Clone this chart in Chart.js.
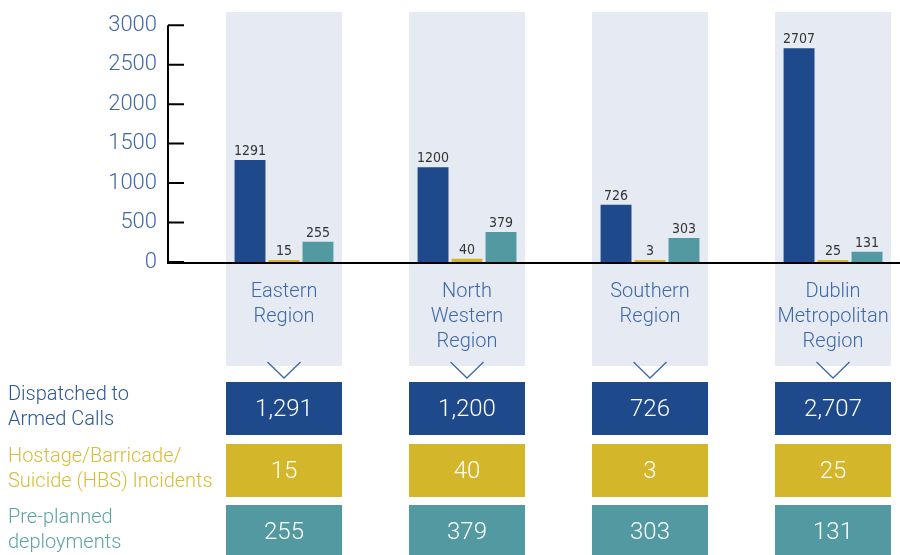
<!DOCTYPE html>
<html>
<head>
<meta charset="utf-8">
<script src="https://cdn.jsdelivr.net/npm/chart.js@4"></script>
<style>
  html, body { margin: 0; padding: 0; background: #fff; }
  #wrap { width: 900px; height: 555px; position: relative; }
</style>
</head>
<body>
<div id="wrap"><canvas id="armedChart"></canvas></div>
<script>
const regions = [['Eastern', 'Region'], ['North', 'Western', 'Region'], ['Southern', 'Region'], ['Dublin', 'Metropolitan', 'Region']];
const seriesNames = [['Dispatched to', 'Armed Calls'], ['Hostage/Barricade/', 'Suicide (HBS) Incidents'], ['Pre-planned', 'deployments']];
const dispatched = [1291, 1200, 726, 2707];
const hostage = [15, 40, 3, 25];
const preplanned = [255, 379, 303, 131];
const yTicks = [0, 500, 1000, 1500, 2000, 2500, 3000];

const seriesData = [dispatched, hostage, preplanned];
const seriesColors = ['#1e4a8b', '#d4b62a', '#5299a1'];
const labelColors = ['#2a5697', '#d9bc35', '#5ea2a8'];
const axisBlue = '#3f68a8';
const lightFont = "'Roboto', 'Liberation Sans', sans-serif";

// layout of the panels round each region
const colHalf = 58;
const colTop = 12;
const colBottom = 366;
const rowTop = [382, 444, 505];
const rowH = 53;

const decorPlugin = {
    id: 'decor',
    beforeDatasetsDraw(chart) {
        const ctx = chart.ctx;
        const x = chart.scales.x;
        ctx.save();
        ctx.fillStyle = '#e6ebf3';
        regions.forEach((r, i) => {
            const cx = x.getPixelForValue(i);
            ctx.fillRect(cx - colHalf, colTop, colHalf * 2, colBottom - colTop);
        });
        ctx.restore();
    },
    afterDatasetsDraw(chart) {
        const ctx = chart.ctx;
        const area = chart.chartArea;
        const x = chart.scales.x;
        const y = chart.scales.y;
        const y0 = y.getPixelForValue(0);
        ctx.save();
        // axis line and inward ticks
        ctx.strokeStyle = '#000';
        ctx.lineWidth = 2;
        ctx.beginPath();
        ctx.moveTo(area.left - 1, y.getPixelForValue(yTicks[yTicks.length - 1]));
        ctx.lineTo(area.left - 1, y0 + 2);
        yTicks.forEach(t => {
            const py = y.getPixelForValue(t);
            ctx.moveTo(area.left - 1, py);
            ctx.lineTo(area.left + 15, py);
        });
        ctx.stroke();
        ctx.beginPath();
        ctx.lineWidth = 2;
        ctx.moveTo(area.left - 1, y0 + 1);
        ctx.lineTo(chart.width, y0 + 1);
        ctx.stroke();

        // values above bars
        ctx.font = "14px 'Liberation Sans Narrow', 'DejaVu Sans Condensed', sans-serif";
        ctx.fillStyle = '#333';
        ctx.textAlign = 'center';
        ctx.textBaseline = 'alphabetic';
        chart.data.datasets.forEach((ds, di) => {
            chart.getDatasetMeta(di).data.forEach((bar, i) => {
                ctx.fillText(String(seriesData[di][i]), bar.x, bar.y - 5);
            });
        });

        // region names and chevrons
        ctx.font = '300 20px ' + lightFont;
        ctx.fillStyle = axisBlue;
        regions.forEach((lines, i) => {
            const cx = x.getPixelForValue(i);
            lines.forEach((t, li) => ctx.fillText(t, cx, 297 + li * 25));
            ctx.beginPath();
            ctx.strokeStyle = axisBlue;
            ctx.lineWidth = 1.3;
            ctx.moveTo(cx - 16.5, 362);
            ctx.lineTo(cx, 378);
            ctx.lineTo(cx + 16.5, 362);
            ctx.stroke();
        });

        // the table below
        seriesData.forEach((vals, si) => {
            ctx.textAlign = 'left';
            ctx.font = '300 20px ' + lightFont;
            ctx.fillStyle = labelColors[si];
            seriesNames[si].forEach((t, li) => {
                ctx.fillText(t, 8, rowTop[si] + 18 + li * 25);
            });
            vals.forEach((v, i) => {
                const cx = x.getPixelForValue(i);
                ctx.fillStyle = seriesColors[si];
                ctx.fillRect(cx - colHalf, rowTop[si], colHalf * 2, rowH);
                ctx.fillStyle = '#fff';
                ctx.font = '300 24px ' + lightFont;
                ctx.textAlign = 'center';
                ctx.textBaseline = 'middle';
                ctx.fillText(v.toLocaleString('en-US'), cx, rowTop[si] + rowH / 2 + 1);
                ctx.textBaseline = 'alphabetic';
            });
        });
        ctx.restore();
    }
};

new Chart(document.getElementById('armedChart'), {
    type: 'bar',
    data: {
        datasets: seriesData.map((vals, si) => ({
            label: seriesNames[si].join(' '),
            data: vals.map((v, i) => ({ x: i, y: v })),
            backgroundColor: seriesColors[si],
            borderWidth: 0,
            minBarLength: 2,
            categoryPercentage: 0.557,
            barPercentage: 0.91
        }))
    },
    options: {
        responsive: true,
        maintainAspectRatio: false,
        animation: false,
        layout: { padding: { top: 20, bottom: 293, left: 0, right: 0 } },
        plugins: { legend: { display: false }, tooltip: { enabled: false } },
        scales: {
            x: {
                type: 'linear',
                display: false,
                offset: false,
                min: -0.6284,
                max: 3.366,
                afterBuildTicks(scale) { scale.ticks = regions.map((r, i) => ({ value: i })); }
            },
            y: {
                min: 0,
                max: 3000,
                afterFit(scale) { scale.width = 169; },
                afterBuildTicks(scale) { scale.ticks = yTicks.map(v => ({ value: v })); },
                grid: { display: false, drawTicks: false },
                border: { display: false },
                ticks: {
                    padding: 12,
                    color: axisBlue,
                    callback: v => String(v),
                    font: { family: lightFont, size: 22, weight: '300' }
                }
            }
        }
    },
    plugins: [decorPlugin]
});
</script>
</body>
</html>
